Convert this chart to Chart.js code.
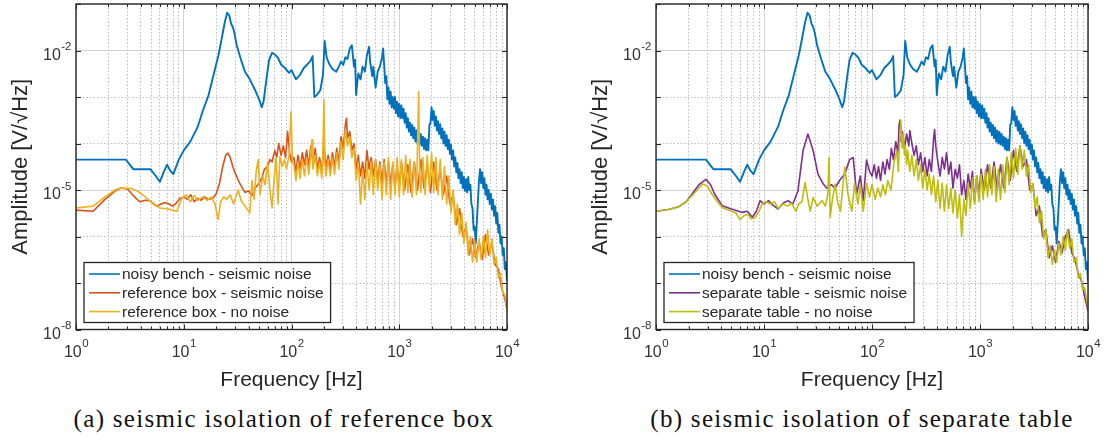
<!DOCTYPE html>
<html lang="en">
<head>
  <meta charset="UTF-8" />
  <title>Seismic isolation - amplitude spectra</title>
  <script src="https://cdn.jsdelivr.net/npm/chart.js"></script>
  <style>
    body {
      margin: 0;
      background: #fff;
    }

    #wrap {
      position: relative;
      width: 1106px;
      height: 445px;
      overflow: hidden;
    }

    .panel {
      position: absolute;
      top: 0;
      width: 553px;
      height: 400px;
    }

    #panelA { left: 0; }
    #panelB { left: 553px; }

    .caption {
      position: absolute;
      top: 405px;
      width: 520px;
      text-align: center;
      font-family: "Liberation Serif", "DejaVu Serif", serif;
      font-size: 25px;
      letter-spacing: 1.3px;
      color: #111;
      white-space: nowrap;
    }
  </style>
</head>
<body>
  <div id="wrap">
    <div class="panel" id="panelA"><canvas id="chartA"></canvas></div>
    <div class="panel" id="panelB"><canvas id="chartB"></canvas></div>
    <div class="caption" style="left:24px">(a) seismic isolation of reference box</div>
    <div class="caption" style="left:602px">(b) seismic isolation of separate table</div>
  </div>

  <script>
    // values (frequency in Hz, amplitude in V/sqrt(Hz))

    // noisy bench - seismic noise (same curve in both panels)
    const benchFreq = [
      1, 2.9, 3.4, 4.9, 5.5, 6.0, 6.5, 7.0, 7.5, 8.0,
      9.0, 10, 11.5, 13.5, 15, 17, 19.5, 21, 22.6, 24,
      25.3, 26.5, 27.5, 28.5, 29.5, 31, 34, 37, 41, 46,
      50, 53, 55, 59, 62, 66, 70, 75, 80, 87,
      95, 100, 110, 120, 130, 140, 150, 157, 163, 172,
      185, 196, 203, 212, 225, 240, 260, 275,
      288, 302, 316, 331, 347, 363, 380, 389, 398, 407,
      417, 437, 457, 479, 501, 525, 537, 562, 575, 603,
      631, 661, 692, 708, 724, 741, 759, 776, 794, 813,
      832, 851, 871, 891, 912, 933, 955, 977, 1000, 1023,
      1047, 1072, 1096, 1122, 1148, 1175, 1202, 1230, 1259, 1288,
      1318, 1349, 1380, 1413, 1445, 1479, 1514, 1549, 1585, 1622,
      1660, 1698, 1738, 1778, 1820, 1862, 1905, 1950, 1995, 2042,
      2089, 2138, 2188, 2239, 2291, 2344, 2399, 2455, 2512, 2570,
      2630, 2692, 2754, 2818, 2884, 2951, 3020, 3090, 3162, 3236,
      3311, 3388, 3467, 3548, 3631, 3715, 3802, 3890, 3981, 4074,
      4169, 4266, 4365, 4467, 4571, 4677, 4786, 4898, 5012, 5129,
      5248, 5370, 5495, 5623, 5754, 5888, 6026, 6166, 6310, 6457,
      6607, 6761, 6918, 7079, 7244, 7413, 7586, 7762, 7943, 8128,
      8318, 8511, 8710, 8913, 9120, 9333, 9550, 9772, 10000
    ];
    const benchAmp = [
      4.5e-5, 4.5e-5, 2.8e-5, 2.8e-5, 2.0e-5, 1.5e-5, 2.4e-5, 3.5e-5, 2.6e-5, 2.2e-5,
      4.5e-5, 7.1e-5, 1.1e-4, 2.3e-4, 5.0e-4, 1.1e-3, 4.0e-3, 7.9e-3, 1.9e-2, 4.0e-2,
      6.5e-2, 5.6e-2, 3.8e-2, 3.2e-2, 2.4e-2, 1.3e-2, 6.3e-3, 3.5e-3, 2.4e-3, 1.4e-3,
      8.9e-4, 6.0e-4, 7.9e-4, 2.8e-3, 6.3e-3, 8.9e-3, 8.3e-3, 6.9e-3, 5.0e-3, 4.2e-3,
      3.3e-3, 3.8e-3, 2.4e-3, 3.0e-3, 4.2e-3, 5.0e-3, 6.0e-3, 7.6e-3, 1.0e-3, 1.1e-3,
      1.4e-3, 3.0e-3, 1.6e-2, 7.1e-3, 5.0e-3, 4.0e-3, 3.5e-3, 4.5e-3,
      5.8e-3, 4.9e-3, 7.2e-3, 6.6e-3, 1.1e-2, 1.3e-2, 4.5e-3, 6.3e-3, 1.1e-3, 2.0e-3,
      3.2e-3, 2.4e-3, 4.5e-3, 3.5e-3, 7.9e-3, 1.2e-2, 5.6e-3, 2.8e-3, 4.5e-3, 1.6e-3,
      3.5e-3, 4.5e-3, 7.1e-3, 1.1e-2, 5.0e-3, 2.0e-3, 2.8e-3, 8.9e-4, 1.6e-3, 7.1e-4,
      1.3e-3, 6.0e-4, 1.0e-3, 5.6e-4, 1.0e-3, 4.5e-4, 7.9e-4, 3.8e-4, 7.1e-4, 3.5e-4,
      6.6e-4, 3.5e-4, 5.6e-4, 2.8e-4, 4.5e-4, 2.2e-4, 3.5e-4, 1.8e-4, 2.8e-4, 1.5e-4,
      2.5e-4, 1.3e-4, 2.2e-4, 1.1e-4, 1.9e-4, 1.0e-4, 1.8e-4, 9.5e-5, 1.6e-4, 8.9e-5,
      1.4e-4, 7.6e-5, 1.3e-4, 7.1e-5, 1.2e-4, 7.1e-5, 2.5e-4, 2.8e-4, 6.0e-4, 3.2e-4,
      5.0e-4, 2.4e-4, 3.8e-4, 1.9e-4, 3.0e-4, 1.6e-4, 2.6e-4, 1.3e-4, 2.1e-4, 1.0e-4,
      1.8e-4, 8.9e-5, 1.5e-4, 7.6e-5, 1.2e-4, 6.0e-5, 9.5e-5, 4.5e-5, 7.1e-5, 3.2e-5,
      5.0e-5, 2.4e-5, 3.8e-5, 1.8e-5, 2.8e-5, 1.4e-5, 2.4e-5, 1.1e-5, 1.9e-5, 9.5e-6,
      1.7e-5, 8.9e-6, 1.9e-5, 1.0e-5, 1.3e-5, 5.0e-6, 4.0e-6, 1.4e-6, 1.6e-6, 7.1e-7,
      2.0e-6, 5.6e-6, 1.6e-5, 2.8e-5, 1.4e-5, 2.4e-5, 1.1e-5, 1.8e-5, 7.9e-6, 1.3e-5,
      6.3e-6, 1.0e-5, 5.0e-6, 8.3e-6, 3.8e-6, 6.3e-6, 2.8e-6, 4.5e-6, 1.9e-6, 3.2e-6,
      1.2e-6, 1.8e-6, 7.1e-7, 1.0e-6, 4.0e-7, 5.6e-7, 2.0e-7, 2.8e-7, 1.1e-7
    ];

    // reference box - seismic noise
    const boxSeisFreq = [
      1, 1.44, 1.86, 2.3, 2.6, 3.0, 3.5, 3.9, 4.4, 4.9,
      5.6, 6.2, 6.7, 7.3, 7.9, 8.5, 9.2, 10, 10.8, 11.6,
      12.5, 13.5, 14.5, 15.5, 17, 18.5, 20, 21.5, 23, 24.5,
      25.7, 27, 28.5, 30, 33, 37, 40, 43, 46, 50,
      53, 56, 60, 63, 66, 70, 73, 76, 80, 84,
      88, 92, 96, 100,
      105, 110, 115, 120, 126, 132, 138, 145, 151, 158,
      166, 174, 182, 191, 200, 209, 219, 229, 240, 251,
      263, 275, 288, 302, 316, 324, 331, 347, 363, 380,
      398, 417, 437, 457, 479, 501, 525, 550, 575, 603,
      631, 661, 692, 724, 759, 794, 832, 871, 912, 955,
      1000, 1047, 1122, 1202, 1288, 1380, 1479, 1585, 1698, 1820,
      1950, 2089, 2239, 2399, 2570, 2754, 2951, 3162, 3388, 3631,
      3890, 4169, 4467, 4786, 5129, 5495, 5888, 6310, 6761, 7244,
      7762, 8318, 8913, 9550, 10000
    ];
    const boxSeisAmp = [
      3.7e-6, 3.5e-6, 6.3e-6, 9.5e-6, 1.1e-5, 1.05e-5, 7.1e-6, 5.6e-6, 6.0e-6, 5.8e-6,
      4.5e-6, 5.0e-6, 5.4e-6, 5.0e-6, 4.5e-6, 5.2e-6, 6.6e-6, 7.1e-6, 6.3e-6, 7.9e-6,
      5.6e-6, 6.6e-6, 6.0e-6, 7.1e-6, 6.3e-6, 6.6e-6, 8.3e-6, 1.4e-5, 3.2e-5, 5.6e-5,
      6.2e-5, 5.0e-5, 3.2e-5, 2.3e-5, 1.4e-5, 8.9e-6, 9.5e-6, 7.6e-6, 1.1e-5, 1.4e-5,
      1.8e-5, 2.8e-5, 3.2e-5, 4.5e-5, 4.0e-5, 7.1e-5, 5.0e-5, 1.0e-4, 5.6e-5, 8.9e-5,
      5.0e-5, 1.8e-4, 6.3e-5, 4.0e-5,
      5.0e-5, 2.5e-5, 5.6e-5, 2.8e-5, 6.3e-5, 3.5e-5, 7.1e-5, 3.2e-5, 8.9e-5, 4.0e-5,
      7.9e-5, 2.8e-5, 5.0e-5, 2.5e-5, 8.9e-5, 3.2e-5, 5.6e-5, 2.8e-5, 6.3e-5, 3.2e-5,
      7.9e-5, 4.0e-5, 1.4e-4, 7.9e-5, 2.5e-4, 3.5e-4, 1.3e-4, 1.8e-4, 7.1e-5, 1.0e-4,
      2.8e-5, 5.6e-5, 2.0e-5, 4.0e-5, 1.8e-5, 7.1e-5, 2.8e-5, 5.0e-5, 2.0e-5, 4.5e-5,
      1.6e-5, 4.0e-5, 1.4e-5, 4.5e-5, 1.4e-5, 4.0e-5, 1.3e-5, 3.5e-5, 1.1e-5, 3.5e-5,
      1.1e-5, 4.0e-5, 1.0e-5, 3.5e-5, 8.9e-6, 4.0e-5, 1.0e-5, 4.5e-5, 1.1e-5, 3.5e-5,
      8.9e-6, 4.0e-5, 1.0e-5, 2.8e-5, 7.9e-6, 2.0e-5, 5.0e-6, 7.9e-6, 1.8e-6, 4.0e-6,
      1.0e-6, 1.6e-6, 4.0e-7, 8.9e-7, 3.5e-7, 7.9e-7, 3.2e-7, 1.1e-6, 4.0e-7, 7.1e-7,
      2.5e-7, 2.0e-7, 7.9e-8, 4.5e-8, 2.8e-8
    ];

    // reference box - no noise
    const boxQuietFreq = [
      1, 1.44, 1.86, 2.3, 2.6, 3.3, 3.7, 4.2, 5.1, 6.0,
      7.2, 8.6, 9.6, 10.5, 11.5, 12.5, 13.5, 15, 16.5, 18,
      19.5, 20.8, 22, 23.5, 25, 27, 29, 32, 34, 37,
      41, 43, 45, 47, 49, 51, 54, 57, 60, 63,
      66, 69, 72, 75, 78, 82, 86, 90, 95, 99,
      102,
      105, 110, 115, 120, 126, 132, 138, 145, 151, 155,
      158, 166, 174, 182, 191, 195, 200, 204, 209, 219,
      229, 240, 251, 263, 275, 288, 302, 316, 331, 347,
      363, 380, 398, 417, 437, 457, 479, 501, 525, 550,
      575, 603, 631, 661, 692, 724, 759, 794, 832, 871,
      912, 955, 1000, 1047, 1096, 1148, 1202, 1259, 1318, 1380,
      1445, 1514, 1549, 1585, 1660, 1738, 1820, 1905, 1995, 2089,
      2188, 2291, 2399, 2512, 2630, 2754, 2884, 3020, 3162, 3311,
      3467, 3631, 3802, 3981, 4169, 4365, 4571, 4786, 5012, 5248,
      5495, 5754, 6026, 6310, 6607, 6918, 7244, 7586, 7943, 8318,
      8710, 9120, 9550, 10000
    ];
    const boxQuietAmp = [
      4.1e-6, 4.5e-6, 7.1e-6, 1.0e-5, 1.1e-5, 1.07e-5, 9.5e-6, 7.8e-6, 5.2e-6, 4.1e-6,
      3.9e-6, 3.5e-6, 6.6e-6, 7.9e-6, 5.6e-6, 7.6e-6, 6.0e-6, 7.1e-6, 6.0e-6, 7.1e-6,
      5.0e-6, 2.3e-6, 5.6e-6, 7.1e-6, 6.3e-6, 7.9e-6, 5.0e-6, 1.0e-5, 6.0e-6, 4.5e-6,
      3.2e-6, 1.6e-5, 6.3e-6, 2.5e-5, 4.5e-5, 7.9e-6, 2.0e-5, 1.3e-5, 4.0e-5, 1.0e-5,
      4.1e-6, 1.8e-5, 5.0e-5, 5.0e-6, 5.2e-5, 3.2e-5, 4.5e-5, 2.8e-5, 5.6e-5, 4.8e-4,
      4.0e-5,
      3.5e-5, 1.6e-5, 4.0e-5, 1.8e-5, 4.5e-5, 2.0e-5, 5.0e-5, 2.2e-5, 6.3e-5, 1.2e-4,
      2.8e-5, 5.6e-5, 2.0e-5, 4.0e-5, 1.8e-5, 5.0e-5, 8.7e-4, 4.0e-5, 2.0e-5, 4.5e-5,
      2.0e-5, 5.0e-5, 2.2e-5, 6.3e-5, 2.8e-5, 1.1e-4, 4.5e-5, 2.0e-4, 8.9e-5, 1.4e-4,
      5.0e-5, 7.9e-5, 1.6e-5, 4.0e-5, 5.0e-6, 2.8e-5, 6.3e-6, 4.0e-5, 1.0e-5, 4.0e-5,
      7.9e-6, 4.5e-5, 1.0e-5, 3.5e-5, 6.3e-6, 4.0e-5, 7.9e-6, 5.0e-5, 6.3e-6, 4.0e-5,
      7.9e-6, 5.0e-5, 7.1e-6, 4.5e-5, 7.9e-6, 5.6e-5, 8.9e-6, 4.5e-5, 7.1e-6, 4.0e-5,
      7.9e-6, 1.3e-3, 2.5e-5, 8.9e-6, 5.0e-5, 7.9e-6, 5.6e-5, 1.0e-5, 6.3e-5, 8.9e-6,
      5.0e-5, 7.9e-6, 4.5e-5, 6.3e-6, 3.2e-5, 5.0e-6, 2.0e-5, 3.2e-6, 1.0e-5, 1.8e-6,
      5.0e-6, 1.1e-6, 3.2e-6, 7.1e-7, 2.0e-6, 4.0e-7, 1.0e-6, 2.8e-7, 7.9e-7, 2.8e-7,
      8.9e-7, 3.2e-7, 1.0e-6, 3.5e-7, 1.4e-6, 4.0e-7, 8.9e-7, 2.5e-7, 3.5e-7, 1.3e-7,
      1.6e-7, 6.3e-8, 5.6e-8, 2.5e-8
    ];

    // separate table - seismic noise
    const tableSeisFreq = [
      1, 1.3, 1.6, 1.9, 2.15, 2.5, 2.9, 3.2, 3.5, 4.1,
      5.0, 6.3, 7.0, 7.8, 8.5, 9.2, 10, 11, 12, 13.5,
      15, 16.7, 18.5, 20.6, 23, 25.5, 28.5, 31.6, 35, 38,
      42, 45.6, 50, 56, 62, 67, 72, 78, 83, 89,
      95,
      100, 105, 110, 115, 120, 126, 132, 138, 145, 151,
      158, 166, 174, 178, 182, 186, 191, 200, 209, 219,
      224, 234, 245, 257, 269, 282, 295, 309, 324, 339,
      355, 372, 380, 389, 407, 427, 447, 468, 490, 513,
      537, 562, 589, 617, 646, 676, 708, 741, 776, 813,
      851, 891, 933, 977, 1023, 1096, 1175, 1259, 1349, 1445,
      1549, 1660, 1778, 1905, 2042, 2188, 2344, 2512, 2692, 2884,
      3090, 3311, 3548, 3802, 4074, 4365, 4677, 5012, 5370, 5754,
      6166, 6607, 7079, 7586, 8128, 8710, 9333, 10000
    ];
    const tableSeisAmp = [
      3.5e-6, 3.8e-6, 4.3e-6, 5.6e-6, 8.1e-6, 1.3e-5, 1.7e-5, 1.3e-5, 8.1e-6, 4.6e-6,
      3.9e-6, 3.3e-6, 3.5e-6, 2.6e-6, 3.5e-6, 5.9e-6, 5.0e-6, 5.9e-6, 4.8e-6, 3.9e-6,
      5.2e-6, 5.9e-6, 5.0e-6, 9.5e-6, 7.1e-5, 1.6e-4, 7.1e-5, 2.2e-5, 1.4e-5, 1.1e-5,
      1.3e-5, 1.1e-5, 1.6e-5, 2.2e-5, 4.5e-5, 5.0e-5, 8.1e-6, 2.0e-5, 5.9e-6, 4.4e-5,
      2.5e-5,
      2.0e-5, 3.5e-5, 1.8e-5, 3.2e-5, 1.6e-5, 4.0e-5, 2.2e-5, 4.5e-5, 2.8e-5, 7.9e-5,
      4.5e-5, 1.1e-4, 6.3e-5, 2.5e-4, 3.2e-4, 1.1e-4, 1.8e-4, 7.9e-5, 1.6e-4, 8.9e-5,
      1.9e-4, 1.0e-4, 5.6e-5, 8.9e-5, 3.5e-5, 6.3e-5, 2.5e-5, 5.0e-5, 2.0e-5, 4.5e-5,
      2.5e-5, 1.3e-4, 2.0e-4, 8.9e-5, 4.0e-5, 2.0e-5, 5.0e-5, 2.8e-5, 6.3e-5, 2.2e-5,
      4.0e-5, 1.1e-5, 2.8e-5, 1.8e-5, 3.5e-5, 7.9e-6, 1.6e-5, 6.3e-6, 2.2e-5, 1.1e-5,
      2.5e-5, 5.6e-6, 2.0e-5, 7.9e-6, 2.8e-5, 1.0e-5, 3.5e-5, 1.1e-5, 4.0e-5, 1.0e-5,
      3.5e-5, 1.1e-5, 5.0e-5, 1.6e-5, 7.1e-5, 2.5e-5, 8.9e-5, 3.2e-5, 4.5e-5, 1.0e-5,
      1.3e-5, 2.8e-6, 4.5e-6, 1.0e-6, 1.4e-6, 3.5e-7, 6.3e-7, 2.8e-7, 7.9e-7, 4.5e-7,
      1.0e-6, 1.4e-6, 4.5e-7, 3.2e-7, 1.6e-7, 1.1e-7, 5.0e-8, 2.5e-8
    ];

    // separate table - no noise
    const tableQuietFreq = [
      1, 1.3, 1.6, 1.9, 2.2, 2.7, 3.0, 3.3, 3.7, 4.1,
      5.0, 5.5, 6.0, 6.5, 7.1, 7.6, 8.2, 9.0, 9.6, 10.5,
      11.5, 12.5, 13.5, 15, 16.5, 18, 19.7, 21, 22.5, 24,
      25.5, 26.8, 28.5, 31, 34.5, 37, 39, 40, 41, 43,
      45.6, 48, 51, 56, 60, 65, 69, 74, 78, 83,
      89, 95, 100, 107, 113, 120, 126, 133, 140, 150,
      160, 170, 175, 180, 185, 190, 195, 200,
      204, 209, 214, 224, 234, 245, 257, 269, 282, 295,
      309, 324, 339, 355, 372, 389, 407, 427, 447, 468,
      490, 513, 537, 562, 589, 617, 646, 676, 708, 741,
      776, 813, 851, 891, 933, 977, 1023, 1072, 1122, 1175,
      1230, 1288, 1349, 1413, 1479, 1549, 1622, 1698, 1778, 1862,
      1950, 2042, 2138, 2239, 2344, 2455, 2570, 2692, 2818, 2951,
      3090, 3236, 3388, 3548, 3715, 3890, 4074, 4266, 4467, 4677,
      4898, 5129, 5370, 5623, 5888, 6166, 6457, 6761, 7079, 7413,
      7762, 8128, 8511, 8913, 9333, 10000
    ];
    const tableQuietAmp = [
      3.5e-6, 3.8e-6, 4.3e-6, 5.6e-6, 7.9e-6, 1.35e-5, 1.2e-5, 8.1e-6, 5.6e-6, 4.2e-6,
      3.5e-6, 3.2e-6, 2.3e-6, 2.8e-6, 3.0e-6, 2.4e-6, 2.5e-6, 3.5e-6, 5.0e-6, 5.6e-6,
      5.0e-6, 5.6e-6, 4.0e-6, 5.0e-6, 4.5e-6, 5.2e-6, 3.5e-6, 5.0e-6, 5.6e-6, 1.45e-5,
      6.3e-6, 3.5e-6, 6.9e-6, 4.5e-6, 5.9e-6, 4.5e-6, 7.9e-6, 5.0e-5, 2.6e-6, 6.3e-6,
      1.35e-5, 5.6e-6, 3.5e-6, 3.1e-5, 7.9e-6, 3.5e-6, 1.4e-5, 5.0e-6, 1.3e-5, 3.5e-6,
      1.4e-5, 7.1e-6, 1.3e-5, 6.3e-6, 1.1e-5, 7.1e-6, 1.3e-5, 7.9e-6, 1.6e-5, 1.0e-5,
      4.0e-5, 6.9e-5, 2.5e-5, 1.1e-4, 3.2e-4, 7.9e-5, 1.6e-4, 5.6e-5,
      8.9e-5, 3.5e-5, 7.1e-5, 2.5e-5, 5.6e-5, 2.0e-5, 4.5e-5, 1.6e-5, 3.5e-5, 1.1e-5,
      2.8e-5, 1.0e-5, 2.2e-5, 7.9e-6, 2.0e-5, 5.6e-6, 1.6e-5, 4.0e-6, 1.4e-5, 3.5e-6,
      1.3e-5, 4.0e-6, 1.1e-5, 3.2e-6, 1.0e-5, 2.5e-6, 7.9e-6, 1.0e-6, 6.3e-6, 2.8e-6,
      1.4e-5, 4.0e-6, 1.8e-5, 5.0e-6, 2.0e-5, 5.6e-6, 2.2e-5, 6.3e-6, 2.8e-5, 7.1e-6,
      3.5e-5, 7.9e-6, 3.2e-5, 5.6e-6, 2.8e-5, 6.3e-6, 3.5e-5, 8.9e-6, 5.0e-5, 1.3e-5,
      6.3e-5, 1.8e-5, 7.9e-5, 2.2e-5, 8.9e-5, 2.8e-5, 7.1e-5, 2.0e-5, 3.5e-5, 8.9e-6,
      1.4e-5, 4.0e-6, 7.1e-6, 2.0e-6, 3.5e-6, 8.9e-7, 1.4e-6, 3.5e-7, 6.3e-7, 2.5e-7,
      5.0e-7, 2.8e-7, 7.1e-7, 4.0e-7, 1.0e-6, 5.0e-7, 1.4e-6, 5.6e-7, 8.9e-7, 2.8e-7,
      3.5e-7, 1.3e-7, 1.6e-7, 7.1e-8, 7.9e-8, 2.8e-8
    ];

    // axes
    const xDecades = [1, 10, 100, 1000, 10000];
    const xTickExp = ['0', '1', '2', '3', '4'];
    const yDecades = [1e-8, 1e-7, 1e-6, 1e-5, 1e-4, 1e-3, 1e-2, 1e-1];
    const yLabelled = [1e-8, 1e-5, 1e-2];
    const yTickExp = ['-8', '-5', '-2'];

    const FONT = '"Liberation Sans", Arial, Helvetica, sans-serif';
    const INK = '#262626';

    function pairs(freq, amp) {
      return freq.map((f, i) => ({ x: f, y: amp[i] }));
    }

    function xGridTicks() {
      const t = [];
      xDecades.forEach((d, i) => {
        t.push({ value: d, major: true });
        if (i < xDecades.length - 1) {
          for (let m = 2; m <= 9; m++) t.push({ value: d * m, major: false });
        }
      });
      return t;
    }

    function yGridTicks() {
      return yDecades.map(v => ({ value: v, major: yLabelled.includes(v) }));
    }

    function drawPower(ctx, exp, x, baseY, align) {
      ctx.font = '16px ' + FONT;
      const wb = ctx.measureText('10').width;
      ctx.font = '11.5px ' + FONT;
      const we = ctx.measureText(exp).width;
      const x0 = align === 'right' ? x - wb - we : x - (wb + we) / 2;
      ctx.textAlign = 'left';
      ctx.textBaseline = 'alphabetic';
      ctx.font = '16px ' + FONT;
      ctx.fillText('10', x0, baseY);
      ctx.font = '11.5px ' + FONT;
      ctx.fillText(exp, x0 + wb + 0.5, baseY - 9.5);
    }

    // box, inward ticks, power-of-ten labels, axis titles and legend (matlab look)
    const matlabFrame = {
      id: 'matlabFrame',
      afterDatasetsDraw(chart) {
        const { ctx, chartArea: a, scales: { x, y } } = chart;
        ctx.save();

        ctx.strokeStyle = INK;
        ctx.lineWidth = 1;
        ctx.beginPath();
        x.ticks.forEach(t => {
          const px = Math.round(x.getPixelForValue(t.value)) + 0.5;
          const len = t.major ? 5 : 3;
          ctx.moveTo(px, a.bottom); ctx.lineTo(px, a.bottom - len);
          ctx.moveTo(px, a.top); ctx.lineTo(px, a.top + len);
        });
        y.ticks.forEach(t => {
          const py = Math.round(y.getPixelForValue(t.value)) + 0.5;
          ctx.moveTo(a.left, py); ctx.lineTo(a.left + 5, py);
          ctx.moveTo(a.right, py); ctx.lineTo(a.right - 5, py);
        });
        ctx.stroke();

        ctx.lineWidth = 1.4;
        ctx.strokeRect(a.left, a.top, a.right - a.left, a.bottom - a.top);

        ctx.fillStyle = '#333';
        xDecades.forEach((d, i) => drawPower(ctx, xTickExp[i], x.getPixelForValue(d), a.bottom + 27, 'center'));
        yLabelled.forEach((v, i) => drawPower(ctx, yTickExp[i], a.left - 5, y.getPixelForValue(v) + 9, 'right'));

        ctx.fillStyle = INK;
        ctx.textAlign = 'center';
        ctx.textBaseline = 'middle';
        ctx.font = '21px ' + FONT;
        ctx.fillText('Frequency [Hz]', (a.left + a.right) / 2, 380);
        ctx.save();
        ctx.translate(a.left - 55, (a.top + a.bottom) / 2);
        ctx.rotate(-Math.PI / 2);
        ctx.font = '22px ' + FONT;
        ctx.fillText('Amplitude [V/\u221AHz]', 0, 0);
        ctx.restore();

        // legend, bottom left inside the axes
        const items = chart.data.datasets;
        ctx.font = '15.5px ' + FONT;
        const tw = Math.max(...items.map(d => ctx.measureText(d.label).width));
        const bw = 40 + tw + 5, bh = 60;
        const bx = a.left + 8, by = a.bottom - 7 - bh;
        ctx.fillStyle = '#fff';
        ctx.fillRect(bx, by, bw, bh);
        ctx.strokeStyle = INK;
        ctx.lineWidth = 1.3;
        ctx.strokeRect(bx, by, bw, bh);
        items.forEach((d, i) => {
          const cy = by + 11.5 + i * 18.8;
          ctx.strokeStyle = d.borderColor;
          ctx.lineWidth = 1.6;
          ctx.beginPath();
          ctx.moveTo(bx + 5, cy);
          ctx.lineTo(bx + 36, cy);
          ctx.stroke();
          ctx.fillStyle = INK;
          ctx.textAlign = 'left';
          ctx.textBaseline = 'middle';
          ctx.fillText(d.label, bx + 38, cy + 1);
        });

        ctx.restore();
      }
    };

    function makePanel(id, axisWidth, rightPad, series) {
      return new Chart(document.getElementById(id), {
        type: 'line',
        data: {
          datasets: series.map((s, i) => ({
            label: s.label,
            data: pairs(s.freq, s.amp),
            borderColor: s.color,
            borderWidth: s.width,
            borderJoinStyle: 'round',
            pointRadius: 0,
            tension: 0,
            fill: false,
            order: series.length - i
          }))
        },
        options: {
          responsive: true,
          maintainAspectRatio: false,
          animation: false,
          events: [],
          layout: { padding: { left: 0, right: rightPad, top: 4, bottom: 0 } },
          scales: {
            x: {
              type: 'logarithmic',
              min: 1,
              max: 10000,
              afterBuildTicks: s => { s.ticks = xGridTicks(); },
              afterFit: s => { s.height = 70.5; },
              ticks: { display: false },
              grid: {
                drawTicks: false,
                color: c => (c.tick && c.tick.major ? '#d4d4d4' : '#bdbdbd')
              },
              border: { display: false, dash: c => (c.tick && !c.tick.major ? [1.5, 2] : []) }
            },
            y: {
              type: 'logarithmic',
              min: 1e-8,
              max: 1e-1,
              afterBuildTicks: s => { s.ticks = yGridTicks(); },
              afterFit: s => { s.width = axisWidth; },
              ticks: { display: false },
              grid: {
                drawTicks: false,
                color: c => (c.tick && c.tick.major ? '#d4d4d4' : '#bdbdbd')
              },
              border: { display: false, dash: c => (c.tick && !c.tick.major ? [1.5, 2] : []) }
            }
          },
          plugins: {
            legend: { display: false },
            tooltip: { enabled: false }
          }
        },
        plugins: [matlabFrame]
      });
    }

    makePanel('chartA', 76, 46, [
      { label: 'noisy bench - seismic noise', freq: benchFreq, amp: benchAmp, color: '#0072BD', width: 1.9 },
      { label: 'reference box - seismic noise', freq: boxSeisFreq, amp: boxSeisAmp, color: '#D95319', width: 1.6 },
      { label: 'reference box - no noise', freq: boxQuietFreq, amp: boxQuietAmp, color: '#EDB120', width: 1.6 }
    ]);

    makePanel('chartB', 103, 18, [
      { label: 'noisy bench - seismic noise', freq: benchFreq, amp: benchAmp, color: '#0072BD', width: 1.9 },
      { label: 'separate table - seismic noise', freq: tableSeisFreq, amp: tableSeisAmp, color: '#7E2F8E', width: 1.6 },
      { label: 'separate table - no noise', freq: tableQuietFreq, amp: tableQuietAmp, color: '#BDBD10', width: 1.6 }
    ]);
  </script>
</body>
</html>
